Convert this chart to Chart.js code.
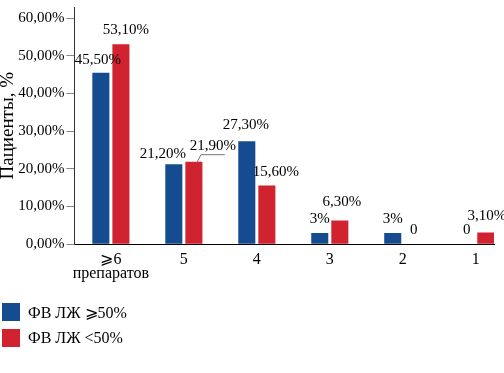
<!DOCTYPE html>
<html>
<head>
<meta charset="utf-8">
<script src="https://cdn.jsdelivr.net/npm/chart.js@4.4.1/dist/chart.umd.min.js"></script>
<style>
    body { margin: 0; background: #fff; }
    #wrap { position: relative; width: 504px; height: 373px; }
    #chart { position: absolute; left: 0; top: 0; }
    #legend { position: absolute; left: 2px; top: 303px; font-family: "Liberation Serif", serif; font-size: 16px; color: #000; }
    .lg-item { display: flex; align-items: center; height: 18px; margin-bottom: 8px; }
    .lg-box { width: 18px; height: 18px; margin-right: 8px; }
</style>
</head>
<body>
<div id="wrap">
    <canvas id="chart" width="504" height="373"></canvas>
    <div id="legend"></div>
</div>
<script>
let categories = [['⩾6', 'препаратов'], '5', '4', '3', '2', '1'];
let seriesNames = ['ФВ ЛЖ ⩾50%', 'ФВ ЛЖ <50%'];
let valuesHigh = [45.5, 21.2, 27.3, 3, 3, 0];   // ФВ ЛЖ >=50%
let valuesLow  = [53.1, 21.9, 15.6, 6.3, 0, 3.1]; // ФВ ЛЖ <50%
let yTicks = [0, 10, 20, 30, 40, 50, 60];
let Colors = ['#154C8F', '#D1232F'];

const FONT = '"Liberation Serif", "Times New Roman", serif';

function fmtPct(v){
    return v.toFixed(2).replace('.', ',') + '%';
}
function fmtLabel(v){
    if(v === 0) return '0';
    if(Number.isInteger(v)) return v + '%';
    return fmtPct(v);
}

// small nudges for the value labels, [dataset][index] -> [dx, dy]
let labelNudge = [
    [[-3, 1], [-11, 4], [-1, -2], [0, 0], [0, 0], [1, 0]],
    [[5, 0], [19, -2], [9, 1], [2, -4], [1, 0], [1, -2]]
];

const valueLabels = {
    id: 'valueLabels',
    afterDatasetsDraw(chart){
        const ctx = chart.ctx;
        ctx.save();
        ctx.font = '15px ' + FONT;
        ctx.fillStyle = '#000';
        ctx.textAlign = 'center';
        ctx.textBaseline = 'middle';
        chart.data.datasets.forEach((ds, d) => {
            chart.getDatasetMeta(d).data.forEach((bar, i) => {
                let v = ds.data[i].y;
                let n = labelNudge[d][i];
                let x = bar.x + n[0];
                let y = bar.y - 14 + n[1];
                ctx.fillText(fmtLabel(v), x, y);
                // callout line under the 21,90% label
                if(d === 1 && i === 1){
                    ctx.strokeStyle = '#777';
                    ctx.lineWidth = 1;
                    ctx.beginPath();
                    ctx.moveTo(bar.x + 3, bar.y + 1);
                    ctx.lineTo(bar.x + 7, y + 9);
                    ctx.lineTo(bar.x + 31, y + 9);
                    ctx.stroke();
                }
            });
        });
        ctx.restore();
    }
};

let datasets = [valuesHigh, valuesLow].map((vals, d) => ({
    label: seriesNames[d],
    data: vals.map((v, i) => ({x: i, y: v})),
    backgroundColor: Colors[d],
    borderWidth: 0,
    categoryPercentage: 0.55,
    barPercentage: 0.85
}));

let chartBar = new Chart(document.getElementById('chart'), {
    type: 'bar',
    data: { datasets: datasets },
    options: {
        responsive: false,
        animation: false,
        layout: { padding: { top: 0, right: 10, bottom: 84, left: 0 } },
        plugins: { legend: { display: false }, tooltip: { enabled: false } },
        scales: {
            x: {
                type: 'linear',
                offset: false,
                min: -0.5,
                max: 5.25,
                grid: { display: false, drawTicks: false },
                border: { display: true, color: '#000', width: 1 },
                afterBuildTicks: scale => { scale.ticks = categories.map((c, i) => ({value: i})); },
                ticks: {
                    autoSkip: false,
                    maxRotation: 0,
                    padding: 8,
                    color: '#000',
                    font: { family: FONT, size: 16, lineHeight: 0.9 },
                    callback: v => categories[v]
                }
            },
            y: {
                min: 0,
                max: 62.9,
                afterBuildTicks: scale => { scale.ticks = yTicks.map(v => ({value: v})); },
                grid: { display: true, drawOnChartArea: false, drawTicks: true, tickLength: 8, color: '#888' },
                border: { display: true, color: '#333', width: 1 },
                ticks: {
                    padding: 2,
                    color: '#000',
                    font: { family: FONT, size: 15, lineHeight: 0.7 },
                    callback: v => fmtPct(v)
                },
                title: {
                    display: true,
                    text: 'Пациенты, %',
                    color: '#000',
                    font: { family: FONT, size: 19, lineHeight: 0.85 },
                    padding: { top: 0, bottom: 0 }
                }
            }
        }
    },
    plugins: [valueLabels]
});

// legend below the chart, one item per row
let legendBox = document.getElementById('legend');
datasets.forEach(ds => {
    let item = document.createElement('div');
    item.className = 'lg-item';
    let box = document.createElement('span');
    box.className = 'lg-box';
    box.style.background = ds.backgroundColor;
    let txt = document.createElement('span');
    txt.textContent = ds.label;
    item.appendChild(box);
    item.appendChild(txt);
    legendBox.appendChild(item);
});
</script>
</body>
</html>
